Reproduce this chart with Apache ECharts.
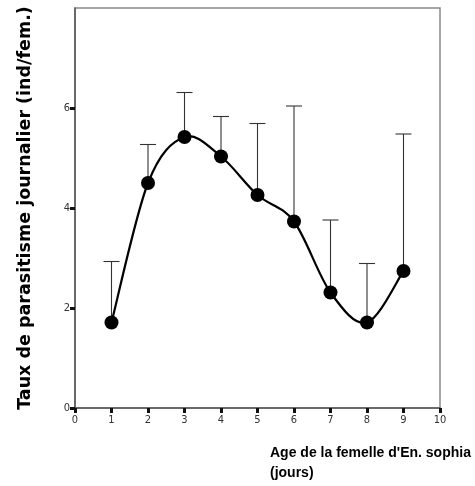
<!DOCTYPE html>
<html>
<head>
<meta charset="utf-8">
<script src="https://cdn.jsdelivr.net/npm/echarts@6/dist/echarts.min.js"></script>
<style>
  html, body { margin: 0; padding: 0; background: #fff; }
  #chart { width: 475px; height: 486px; }
</style>
</head>
<body>
<div id="chart"></div>
<script>
// age of the female (days)
var ages = [1, 2, 3, 4, 5, 6, 7, 8, 9];
// mean daily parasitism rate
var means = [1.71, 4.50, 5.42, 5.03, 4.26, 3.73, 2.31, 1.71, 2.74];
// top of the error bars
var upper = [2.93, 5.27, 6.31, 5.83, 5.69, 6.04, 3.76, 2.89, 5.48];
var yTicks = [0, 2, 4, 6];

var xTitle = "Age de la femelle d'En. sophia";
var xUnit = '(jours)';
var yTitle = 'Taux de parasitisme journalier (ind/fem.)';

var dom = document.getElementById('chart');
var myChart = echarts.init(dom, null, { renderer: 'canvas' });

var errData = [];
for (var i = 0; i < ages.length; i++) {
    errData.push([ages[i], means[i], upper[i]]);
}

function renderErr(params, api) {
    var lo = api.coord([api.value(0), api.value(1)]);
    var hi = api.coord([api.value(0), api.value(2)]);
    var half = 8;
    var st = { stroke: '#333', lineWidth: 1.1 };
    return {
        type: 'group',
        children: [
            { type: 'line', shape: { x1: lo[0], y1: lo[1], x2: hi[0], y2: hi[1] }, style: st },
            { type: 'line', shape: { x1: hi[0] - half, y1: hi[1], x2: hi[0] + half, y2: hi[1] }, style: st }
        ]
    };
}

// smooth curve (catmull-rom) through the means, drawn once
function renderCurve(params, api) {
    if (params.dataIndex !== 0) return null;
    var p = [];
    for (var i = 0; i < ages.length; i++) p.push(api.coord([ages[i], means[i]]));
    var d = 'M' + p[0][0] + ',' + p[0][1];
    for (var i = 0; i < p.length - 1; i++) {
        var p0 = p[i - 1] || p[i];
        var p1 = p[i];
        var p2 = p[i + 1];
        var p3 = p[i + 2] || p[i + 1];
        var c1x = p1[0] + (p2[0] - p0[0]) / 6, c1y = p1[1] + (p2[1] - p0[1]) / 6;
        var c2x = p2[0] - (p3[0] - p1[0]) / 6, c2y = p2[1] - (p3[1] - p1[1]) / 6;
        d += ' C' + c1x + ',' + c1y + ' ' + c2x + ',' + c2y + ' ' + p2[0] + ',' + p2[1];
    }
    return {
        type: 'path',
        shape: { pathData: d },
        style: { fill: 'none', stroke: '#000', lineWidth: 2.2 }
    };
}

var option = {
    backgroundColor: '#fff',
    animation: false,
    grid: {
        left: 75, right: 35, top: 8, bottom: 78,
        show: true, borderColor: '#8a8a8a', borderWidth: 1.5
    },
    xAxis: {
        type: 'value', min: 0, max: 10, interval: 1,
        splitLine: { show: false },
        axisLine: { show: true, onZero: false, lineStyle: { color: '#555', width: 1.5 } },
        axisTick: { show: true, length: 5, lineStyle: { color: '#111', width: 3 } },
        axisLabel: { color: '#333', fontSize: 11, fontFamily: 'DejaVu Sans Condensed, Liberation Sans Narrow, sans-serif', margin: 7 }
    },
    yAxis: {
        type: 'value', min: 0, max: 8, interval: 2,
        splitLine: { show: false },
        axisLine: { show: true, onZero: false, lineStyle: { color: '#555', width: 1.5 } },
        axisTick: { show: true, length: 5, customValues: yTicks, lineStyle: { color: '#111', width: 3 } },
        axisLabel: {
            customValues: yTicks,
            color: '#333', fontSize: 11, fontFamily: 'DejaVu Sans Condensed, Liberation Sans Narrow, sans-serif', margin: 5
        },
        name: yTitle,
        nameLocation: 'middle',
        nameGap: 41,
        nameTextStyle: { color: '#000', fontSize: 17.5, fontWeight: 'bold', fontFamily: 'DejaVu Sans, sans-serif' }
    },
    graphic: [
        {
            type: 'text', left: 270, top: 443,
            style: {
                text: xTitle + '\n' + xUnit,
                fill: '#000', font: 'bold 14px "Liberation Sans", Arial, sans-serif', lineHeight: 20
            }
        }
    ],
    series: [
        {
            type: 'custom',
            renderItem: renderErr,
            data: errData,
            encode: { x: 0, y: [1, 2] },
            z: 1
        },
        {
            type: 'custom',
            renderItem: renderCurve,
            data: errData,
            encode: { x: 0, y: 1 },
            z: 2
        },
        {
            type: 'scatter',
            data: ages.map(function (a, i) { return [a, means[i]]; }),
            symbol: 'circle',
            symbolSize: 14,
            itemStyle: { color: '#000', opacity: 1 },
            z: 3
        }
    ]
};

myChart.setOption(option);
</script>
</body>
</html>
